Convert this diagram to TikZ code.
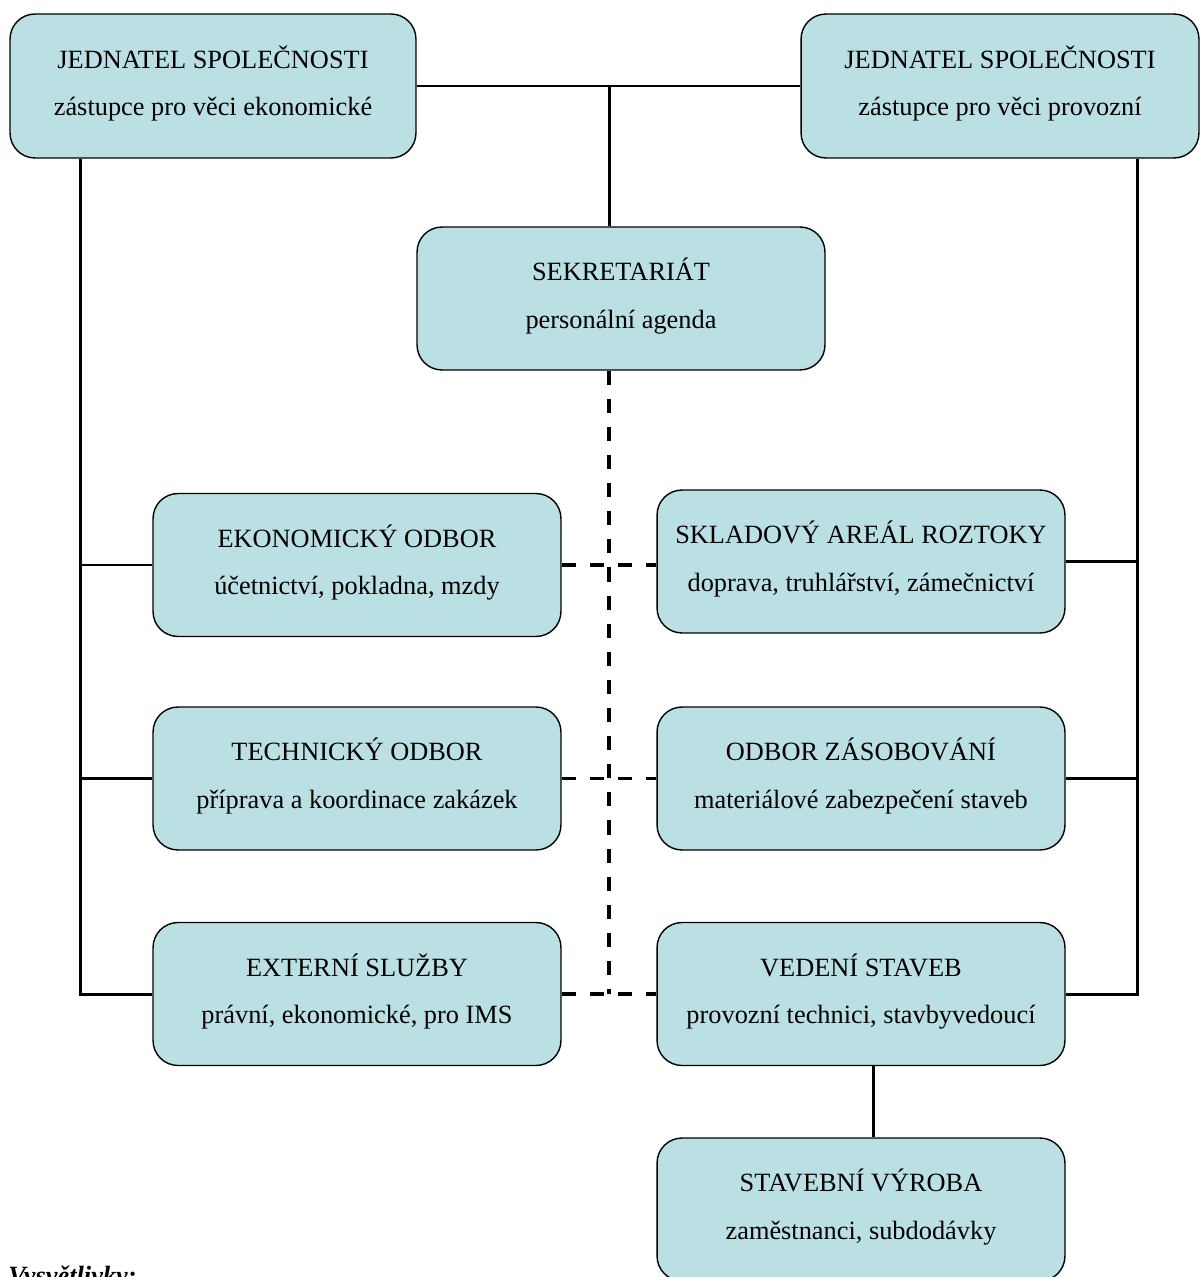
\documentclass[tikz,border=0pt]{standalone}
\usepackage{fontspec}
\setmainfont{Liberation Serif}
\usetikzlibrary{calc}
\definecolor{boxfill}{RGB}{187,224,227}
\newcommand{\bxtxt}[2]{\rule{0pt}{13pt}#1\\#2\rule[-6.4pt]{0pt}{6.4pt}}
\begin{document}
\begin{tikzpicture}[x=0.02cm,y=-0.02cm,
  orgbox/.style={draw=black,line width=0.8pt,fill=boxfill,rounded corners=0.5cm,
    minimum width=8.16cm,minimum height=2.86cm,inner sep=0pt,align=center,
    font=\fontsize{15}{27}\selectfont},
  solidline/.style={line width=1.7pt},
  dashline/.style={line width=1.8pt,dash pattern=on 8pt off 8pt}]
\clip (0,0) rectangle (1200,1277);
\fill[white] (0,0) rectangle (1200,1277);

\node[orgbox,minimum width=8.12cm,minimum height=2.88cm] (jl) at (213,86)
  {\bxtxt{JEDNATEL SPOLEČNOSTI}{zástupce pro věci ekonomické}};
\node[orgbox,minimum width=7.96cm,minimum height=2.88cm] (jr) at (1000,86)
  {\bxtxt{JEDNATEL SPOLEČNOSTI}{zástupce pro věci provozní}};
\node[orgbox] (sek) at (621,298.5) {\bxtxt{SEKRETARIÁT}{personální agenda}};
\node[orgbox] (eko) at (357,565) {\bxtxt{EKONOMICKÝ ODBOR}{účetnictví, pokladna, mzdy}};
\node[orgbox] (skl) at (861,561.5) {\bxtxt{SKLADOVÝ AREÁL ROZTOKY}{doprava, truhlářství, zámečnictví}};
\node[orgbox] (tech) at (357,778.5) {\bxtxt{TECHNICKÝ ODBOR}{příprava a koordinace zakázek}};
\node[orgbox] (zas) at (861,778.5) {\bxtxt{ODBOR ZÁSOBOVÁNÍ}{materiálové zabezpečení staveb}};
\node[orgbox] (ext) at (357,994) {\bxtxt{EXTERNÍ SLUŽBY}{právní, ekonomické, pro IMS}};
\node[orgbox] (ved) at (861,994) {\bxtxt{VEDENÍ STAVEB}{provozní technici, stavbyvedoucí}};
\node[orgbox] (stav) at (861,1209.5) {\bxtxt{STAVEBNÍ VÝROBA}{zaměstnanci, subdodávky}};

\node[anchor=base west,inner sep=0pt,font=\fontsize{15}{18}\selectfont\bfseries\itshape] (legend) at (8,1284) {Vysvětlivky:};

% top connections
\draw[solidline] (jl.east) -- (jr.west);
\coordinate (sektop) at ($(sek.north)+(-12,0)$);
\coordinate (topmid) at (sektop |- jl.east);
\draw[solidline] (topmid) -- (sektop);

% left bus
\coordinate (lbus) at ($(jl.south west)+(71,0)$);
\draw[solidline] (lbus) |- (ext.west);
\draw[solidline] (lbus |- eko.west) -- (eko.west);
\draw[solidline] (lbus |- tech.west) -- (tech.west);

% right bus
\coordinate (rbus) at ($(jr.south east)+(-62,0)$);
\draw[solidline] (rbus) |- (ved.east);
\draw[solidline] (rbus |- skl.east) -- (skl.east);
\draw[solidline] (rbus |- zas.east) -- (zas.east);

% dashed links
\coordinate (sekbot) at ($(sek.south)+(-12,0)$);
\coordinate (dashend) at (sekbot |- ext.east);
\draw[dashline] (sekbot) -- (dashend);
\draw[dashline] (eko.east) -- (eko.east -| skl.west);
\draw[dashline] (tech.east) -- (zas.west);
\draw[dashline] (ext.east) -- (ved.west);

% vedeni -> stavebni
\coordinate (vedbot) at ($(ved.south)+(12,0)$);
\draw[solidline] (vedbot) -- (vedbot |- stav.north);
\end{tikzpicture}
\end{document}
